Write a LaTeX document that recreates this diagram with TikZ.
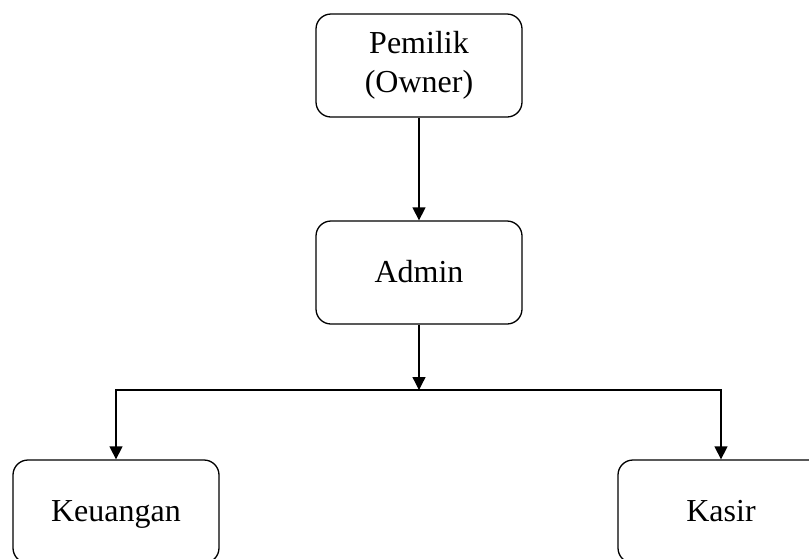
\documentclass[tikz,border=0pt]{standalone}
\usepackage{fontspec}
\setmainfont{Liberation Serif}
\usetikzlibrary{arrows.meta}
\begin{document}
\begin{tikzpicture}[x=1pt,y=-1pt,
  box/.style={draw, line width=1.3pt, rounded corners=15pt, minimum width=206pt, minimum height=103pt, align=center, font=\fontsize{32}{39}\selectfont},
  onebox/.style={box, text height=25pt, text depth=6pt},
  link/.style={line width=1.3pt, -{Triangle[length=13pt,width=13pt]}}]
\useasboundingbox (0,0) rectangle (809,558);
\node[box] (owner) at (419,65.5){Pemilik\\(Owner)};
\node[onebox] (admin) at (419,272.5){Admin};
\node[onebox] (keu) at (116,511.5){Keuangan};
\node[onebox] (kasir) at (721,511.5){Kasir};
\coordinate (split) at (419,390);
\draw[link](owner) -- (admin);
\draw[link](admin) -- (split);
\draw[link](split) -| (keu);
\draw[link](split) -| (kasir);
\end{tikzpicture}
\end{document}
